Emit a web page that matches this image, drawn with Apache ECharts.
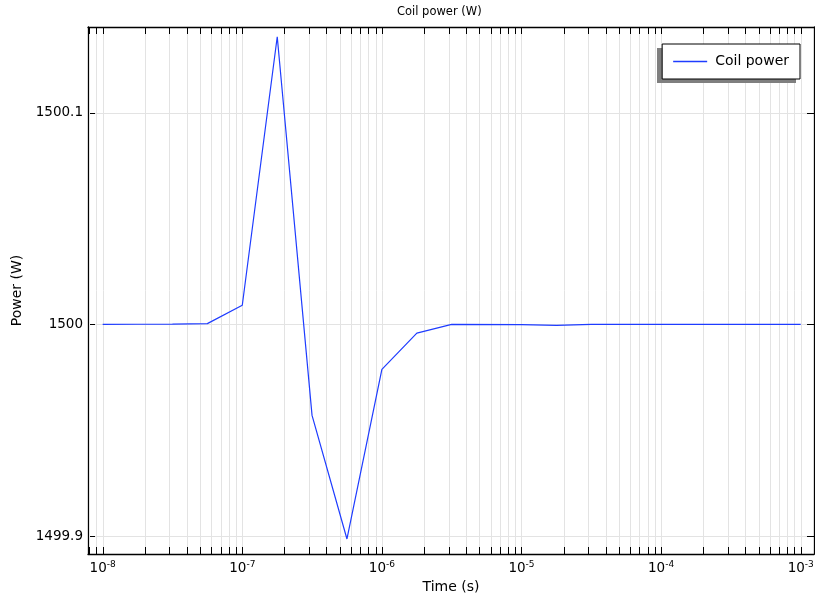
<!DOCTYPE html>
<html>
<head>
<meta charset="utf-8">
<script src="https://cdn.jsdelivr.net/npm/echarts@6/dist/echarts.min.js"></script>
<style>
html,body{margin:0;padding:0;background:#fff;}
#chart{width:815px;height:598px;}
</style>
</head>
<body>
<div id="chart"></div>
<script>
// ---- data ----
const times = [1e-8, 1.78e-8, 3.16e-8, 5.62e-8, 1e-7, 1.78e-7, 3.16e-7, 5.62e-7, 1e-6, 1.78e-6, 3.16e-6, 1e-5, 1.78e-5, 3.16e-5, 1e-4, 1e-3];
const power = [1500.0, 1500.0001, 1500.0002, 1500.0004, 1500.0091, 1500.136, 1499.957, 1499.8986, 1499.9788, 1499.9959, 1500.0, 1499.9999, 1499.9996, 1500.0, 1500.0, 1500.0];
const seriesName = 'Coil power';
const titleText = 'Coil power (W)';
const xName = 'Time (s)';
const yName = 'Power (W)';
const xMin = 7.85e-9, xMax = 1.245e-3;
const yMin = 1499.8915, yMax = 1500.1406;
const decades = [-9, -8, -7, -6, -5, -4, -3];
const minorMult = [1, 2, 3, 4, 5, 6, 7, 8, 9];

const FONT = 'DejaVu Sans';
const tickVals = [];
decades.forEach(n => minorMult.forEach(k => {
  const v = k * Math.pow(10, n);
  if (v > xMin && v < xMax) tickVals.push([v, yMin]);
}));

const chart = echarts.init(document.getElementById('chart'));
const option = {
  backgroundColor: '#fff',
  animation: false,
  title: {
    text: titleText, left: 397, top: 6, padding: 0,
    textStyle: {fontFamily: FONT, fontSize: 11.5, fontWeight: 'normal', color: '#000'}
  },
  graphic: [{
    type: 'rect', right: 19, top: 48, z: 4, silent: true,
    shape: {width: 139, height: 35},
    style: {fill: '#7f7f7f'}
  }],
  legend: {
    right: 15, top: 44, z: 6,
    data: [seriesName],
    icon: 'rect',
    backgroundColor: '#fff', borderColor: '#000', borderWidth: 1, borderRadius: 0,
    padding: [9, 11, 9, 11],
    itemWidth: 34, itemHeight: 1.3,
    textStyle: {fontFamily: FONT, fontSize: 14, color: '#000', padding: [0, 0, 0, 3], lineHeight: 17}
  },
  grid: {left: 88, right: 1, top: 27, bottom: 44, show: false, outerBoundsMode: 'none', containLabel: false},
  xAxis: [{
    type: 'log', logBase: 10, min: xMin, max: xMax,
    name: xName, nameLocation: 'middle', nameGap: 23,
    nameTextStyle: {fontFamily: FONT, fontSize: 14, color: '#000'},
    axisLine: {show: true, lineStyle: {color: '#000', width: 1.3}},
    axisTick: {show: false},
    splitLine: {show: false},
    minorTick: {show: false},
    axisLabel: {
      showMinLabel: false, showMaxLabel: false, margin: 6,
      formatter: v => '{b|10}{s|' + Math.round(Math.log10(v)) + '}',
      rich: {
        b: {fontFamily: FONT, fontSize: 13.5, color: '#000', lineHeight: 17},
        s: {fontFamily: FONT, fontSize: 9, color: '#000', verticalAlign: 'top', lineHeight: 10}
      }
    }
  }, {
    type: 'log', logBase: 10, min: xMin, max: xMax, position: 'top',
    axisLine: {show: true, lineStyle: {color: '#000', width: 1.3}},
    axisTick: {show: false}, axisLabel: {show: false}, splitLine: {show: false}
  }],
  yAxis: [{
    type: 'value', min: yMin, max: yMax, minInterval: 0.1, maxInterval: 0.1,
    name: yName, nameLocation: 'middle', nameGap: 64,
    nameTextStyle: {fontFamily: FONT, fontSize: 14, color: '#000'},
    axisLine: {show: true, lineStyle: {color: '#000', width: 1.3}},
    axisTick: {show: true, inside: true, length: 7, lineStyle: {color: '#000'}},
    splitLine: {show: true, lineStyle: {color: '#e3e3e3', width: 1}},
    axisLabel: {
      showMinLabel: false, showMaxLabel: false, margin: 5,
      fontFamily: FONT, fontSize: 13.5, color: '#000',
      formatter: v => String(Math.round(v * 10) / 10)
    }
  }, {
    type: 'value', min: yMin, max: yMax, minInterval: 0.1, maxInterval: 0.1, position: 'right',
    axisLine: {show: true, lineStyle: {color: '#000', width: 1.3}},
    axisTick: {show: true, inside: true, length: 7, lineStyle: {color: '#000'}},
    splitLine: {show: false}, axisLabel: {show: false}
  }],
  series: [{
    type: 'custom', name: 'ticks', silent: true, clip: false, z: 1,
    xAxisIndex: 0, yAxisIndex: 0,
    data: tickVals,
    encode: {x: 0, y: 1},
    renderItem: (params, api) => {
      const v = api.value(0);
      const b = api.coord([v, yMin]);
      const t = api.coord([v, yMax]);
      const x = Math.round(b[0]) + 0.5;
      return {
        type: 'group',
        children: [
          {type: 'line', shape: {x1: x, y1: b[1], x2: x, y2: t[1]}, style: {stroke: '#e3e3e3', lineWidth: 1}, z2: 0},
          {type: 'line', shape: {x1: x, y1: b[1], x2: x, y2: b[1] - 7}, style: {stroke: '#000', lineWidth: 1}, z2: 5},
          {type: 'line', shape: {x1: x, y1: t[1], x2: x, y2: t[1] + 7}, style: {stroke: '#000', lineWidth: 1}, z2: 5}
        ]
      };
    }
  }, {
    type: 'line', name: seriesName, z: 3,
    xAxisIndex: 0, yAxisIndex: 0,
    data: times.map((t, i) => [t, power[i]]),
    symbol: 'none', showSymbol: false,
    lineStyle: {color: '#1e3cff', width: 1.2},
    itemStyle: {color: '#1e3cff'}
  }]
};
chart.setOption(option);
</script>
</body>
</html>
